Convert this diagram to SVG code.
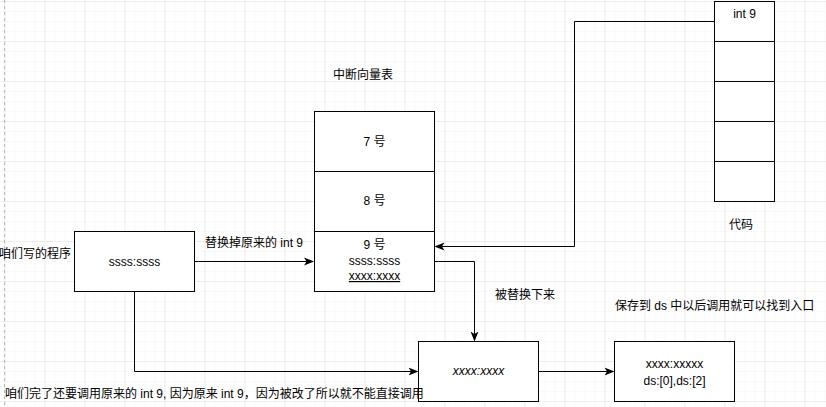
<svg xmlns="http://www.w3.org/2000/svg" width="826" height="407" viewBox="0 0 826 407">
  <defs>
    <pattern id="minor" x="4.5" y="1" width="10" height="10" patternUnits="userSpaceOnUse">
      <path d="M0 0H10M0 0V10" fill="none" stroke="#f3f3f3" stroke-width="1"/>
    </pattern>
    <pattern id="major" x="4.5" y="1" width="40" height="40" patternUnits="userSpaceOnUse">
      <path d="M0 0H40M0 0V40" fill="none" stroke="#e2e2e2" stroke-width="1"/>
    </pattern>
    <marker id="arrow" viewBox="0 0 10 10" refX="9" refY="5" markerWidth="10" markerHeight="10" markerUnits="userSpaceOnUse" orient="auto">
      <path d="M0 1 L10 5 L0 9 L2.5 5 Z" fill="#000"/>
    </marker>
  </defs>
  <style>
    text { font-family: "Liberation Sans", "Noto Sans CJK SC", sans-serif; font-size: 12px; fill: #000; }
    .box { fill: #fff; stroke: #000; stroke-width: 1; }
    .edge { fill: none; stroke: #000; stroke-width: 1; }
    .mid { text-anchor: middle; }
  </style>

  <!-- background grid -->
  <rect width="826" height="407" fill="#fff"/>
  <rect width="826" height="407" fill="url(#minor)"/>
  <rect width="826" height="407" fill="url(#major)"/>
  <line x1="4.5" y1="0" x2="4.5" y2="407" stroke="#b8b8b8" stroke-dasharray="3 3"/>

  <!-- connectors -->
  <g id="connectors">
    <path class="edge" d="M194.5 261.5 H313" marker-end="url(#arrow)"/>
    <path class="edge" d="M714.5 21.5 H574.5 V246.5 H435.5" marker-end="url(#arrow)"/>
    <path class="edge" d="M434.5 261.5 H474.5 V340.5" marker-end="url(#arrow)"/>
    <path class="edge" d="M134.5 291.5 V371.5 H417.5" marker-end="url(#arrow)"/>
    <path class="edge" d="M538.5 371.5 H613.5" marker-end="url(#arrow)"/>
  </g>

  <!-- our program -->
  <g id="program">
    <rect class="box" x="74.5" y="231.5" width="120" height="60"/>
    <text class="mid" x="134.5" y="266">ssss:ssss</text>
  </g>

  <!-- interrupt vector table -->
  <g id="vector-table">
    <rect class="box" x="314.5" y="111.5" width="120" height="60"/>
    <text class="mid" x="374.5" y="146">7 号</text>
    <rect class="box" x="314.5" y="171.5" width="120" height="60"/>
    <text class="mid" x="374.5" y="205">8 号</text>
    <rect class="box" x="314.5" y="231.5" width="120" height="60"/>
    <text class="mid" x="374.5" y="249">9 号</text>
    <text class="mid" x="374.5" y="265">ssss:ssss</text>
    <text class="mid" x="374.5" y="280" text-decoration="underline">xxxx:xxxx</text>
  </g>

  <!-- code memory -->
  <g id="code">
    <rect class="box" x="714.5" y="1.5" width="60" height="40"/>
    <text class="mid" x="744.5" y="18">int 9</text>
    <rect class="box" x="714.5" y="41.5" width="60" height="40"/>
    <rect class="box" x="714.5" y="81.5" width="60" height="40"/>
    <rect class="box" x="714.5" y="121.5" width="60" height="40"/>
    <rect class="box" x="714.5" y="161.5" width="60" height="40"/>
  </g>

  <!-- original handler -->
  <g id="original">
    <rect class="box" x="418.5" y="341.5" width="120" height="60"/>
    <text class="mid" x="478.5" y="375" font-style="italic">xxxx:xxxx</text>
  </g>

  <!-- saved entry -->
  <g id="saved">
    <rect class="box" x="614.5" y="341.5" width="120" height="60"/>
    <text class="mid" x="674.5" y="368">xxxx:xxxxx</text>
    <text class="mid" x="674.5" y="385">ds:[0],ds:[2]</text>
  </g>

  <!-- labels -->
  <g id="labels">
    <text class="mid" x="363" y="79">中断向量表</text>
    <text x="71" y="258" text-anchor="end">咱们写的程序</text>
    <text x="205" y="247">替换掉原来的 int 9</text>
    <text class="mid" x="741" y="229">代码</text>
    <text x="495" y="299">被替换下来</text>
    <text x="615" y="310">保存到 ds 中以后调用就可以找到入口</text>
    <text x="5" y="398">咱们完了还要调用原来的 int 9, 因为原来 int 9，因为被改了所以就不能直接调用</text>
  </g>
</svg>
